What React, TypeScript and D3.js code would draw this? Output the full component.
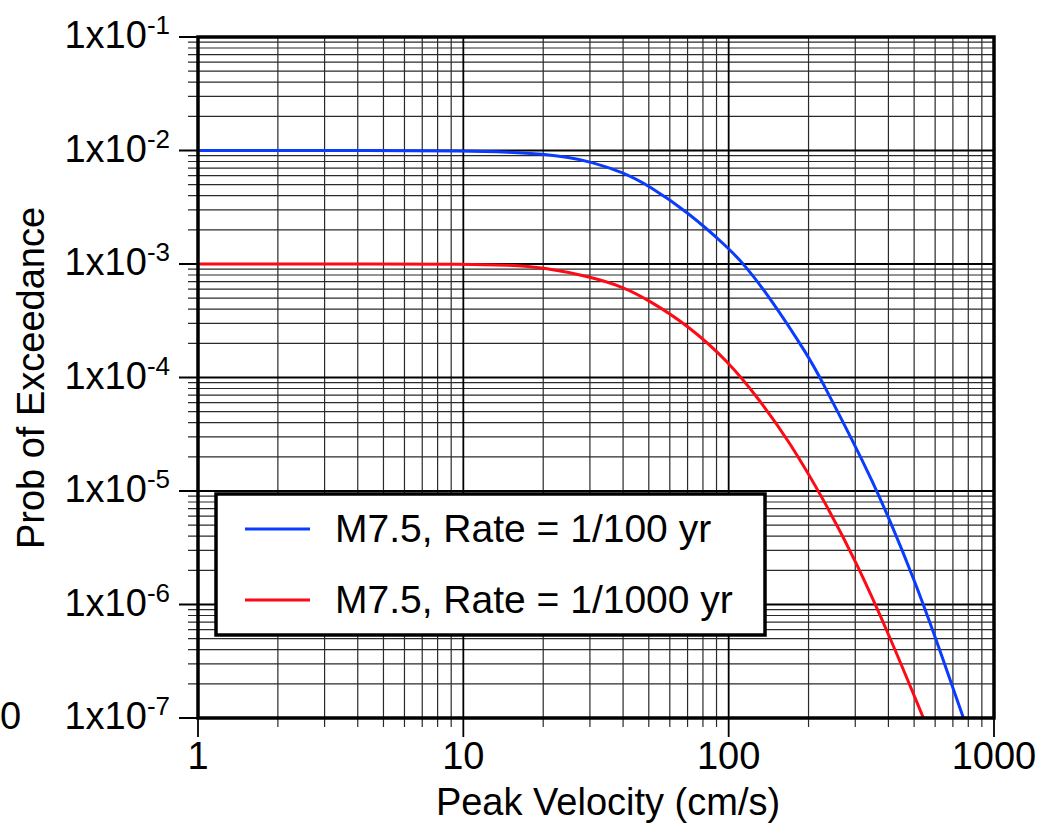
import React from "react";
import * as d3 from "d3";

// Data
const blueVel = [1, 5, 10, 15, 20, 25, 30, 40, 50, 70, 100, 114, 143, 200, 221, 300, 346, 400, 504, 600, 767];
const blueProb = [0.01, 0.01, 0.00995, 0.0097, 0.0093, 0.0087, 0.008, 0.00643, 0.0049, 0.00288, 0.00138, 0.001, 5.1e-4, 1.53e-4, 1.0e-4, 2.5e-5, 1.25e-5, 5.94e-6, 1.59e-6, 5.2e-7, 1.0e-7];

const redVel = [1, 5, 10, 15, 20, 30, 40, 50, 70, 100, 131, 168, 231, 304, 400, 542];
const redProb = [0.001, 0.001, 0.000998, 0.00098, 9.35e-4, 7.74e-4, 6.3e-4, 4.8e-4, 2.9e-4, 1.38e-4, 6.3e-5, 2.81e-5, 8.0e-6, 2.31e-6, 5.57e-7, 1.0e-7];

const seriesNames = ["M7.5, Rate = 1/100 yr", "M7.5, Rate = 1/1000 yr"];
const seriesColors = ["#0a3cff", "#ff0a14"];

const xTickValues = [1, 10, 100, 1000];
const xTickLabels = ["1", "10", "100", "1000"];
const yTickValues = [1e-1, 1e-2, 1e-3, 1e-4, 1e-5, 1e-6, 1e-7];
const yTickExps = ["-1", "-2", "-3", "-4", "-5", "-6", "-7"];

const xTitle = "Peak Velocity (cm/s)";
const yTitle = "Prob of Exceedance";

const W = 1041;
const H = 823;
const L = 198, R = 994, T = 37, B = 718;
const FONT = "'Liberation Sans', Arial, Helvetica, sans-serif";

export default function App() {
  const x = d3.scaleLog().domain([1, 1000]).range([L, R]);
  const y = d3.scaleLog().domain([1e-7, 1e-1]).range([B, T]);

  const minorX: number[] = [];
  for (let d = 1; d < 1000; d *= 10) for (let m = 2; m <= 9; m++) minorX.push(d * m);
  const minorY: number[] = [];
  for (let d = 1e-7; d < 1e-1 * 0.999; d *= 10) for (let m = 2; m <= 9; m++) minorY.push(d * m);

  const line = d3
    .line<[number, number]>()
    .x((d) => x(d[0]))
    .y((d) => y(d[1]))
    .curve(d3.curveBasis);

  const blueData = blueVel.map((v, i) => [v, blueProb[i]] as [number, number]);
  const redData = redVel.map((v, i) => [v, redProb[i]] as [number, number]);

  const legendX = 216, legendY = 494, legendW = 549, legendH = 141;
  const legendRows = [529, 600];

  return (
    <svg width={W} height={H} style={{ position: "absolute", left: 0, top: 0, background: "#fff" }} fontFamily={FONT}>
      <defs>
        <clipPath id="plotclip">
          <rect x={L} y={T} width={R - L} height={B - T} />
        </clipPath>
      </defs>
      <rect x={0} y={0} width={W} height={H} fill="#fff" />

      {/* minor grid */}
      {minorX.map((v) => (
        <line key={"mx" + v} x1={x(v)} x2={x(v)} y1={T} y2={B + 9} stroke="#2a2a2a" strokeWidth={1.2} />
      ))}
      {minorY.map((v, i) => (
        <line key={"my" + i} x1={L - 10} x2={R} y1={y(v)} y2={y(v)} stroke="#2a2a2a" strokeWidth={1.2} />
      ))}
      {/* major grid */}
      {xTickValues.map((v) => (
        <line key={"Mx" + v} x1={x(v)} x2={x(v)} y1={T} y2={B + 19} stroke="#000" strokeWidth={1.8} />
      ))}
      {yTickValues.map((v, i) => (
        <line key={"My" + i} x1={L - 19} x2={R} y1={y(v)} y2={y(v)} stroke="#000" strokeWidth={1.8} />
      ))}

      {/* curves */}
      <g clipPath="url(#plotclip)">
        <path d={line(blueData) || ""} fill="none" stroke={seriesColors[0]} strokeWidth={3} />
        <path d={line(redData) || ""} fill="none" stroke={seriesColors[1]} strokeWidth={3} />
      </g>

      {/* frame */}
      <rect x={L} y={T} width={R - L} height={B - T} fill="none" stroke="#000" strokeWidth={3.5} />

      {/* y tick labels */}
      {yTickValues.map((v, i) => (
        <text key={"yl" + i} x={170} y={y(v) + 11} textAnchor="end" fontSize={38} fill="#000">
          <tspan>1x10</tspan>
          <tspan dy={-14} fontSize={26}>{yTickExps[i]}</tspan>
        </text>
      ))}
      <text x={0} y={y(1e-7) + 11} fontSize={38} fill="#000">0</text>

      {/* x tick labels */}
      {xTickValues.map((v, i) => (
        <text key={"xl" + v} x={x(v)} y={769} textAnchor="middle" fontSize={38} fill="#000">
          {xTickLabels[i]}
        </text>
      ))}

      {/* axis titles */}
      <text x={608} y={815} textAnchor="middle" fontSize={38} fill="#000">{xTitle}</text>
      <text transform={`translate(44,378) rotate(-90)`} textAnchor="middle" fontSize={38} fill="#000">{yTitle}</text>

      {/* legend */}
      <rect x={legendX} y={legendY} width={legendW} height={legendH} fill="#fff" stroke="#000" strokeWidth={3.5} />
      {seriesNames.map((n, i) => (
        <g key={n}>
          <line x1={245} x2={310} y1={legendRows[i]} y2={legendRows[i]} stroke={seriesColors[i]} strokeWidth={3} />
          <text x={335} y={legendRows[i] + 13} fontSize={39} fill="#000">{n}</text>
        </g>
      ))}
    </svg>
  );
}
